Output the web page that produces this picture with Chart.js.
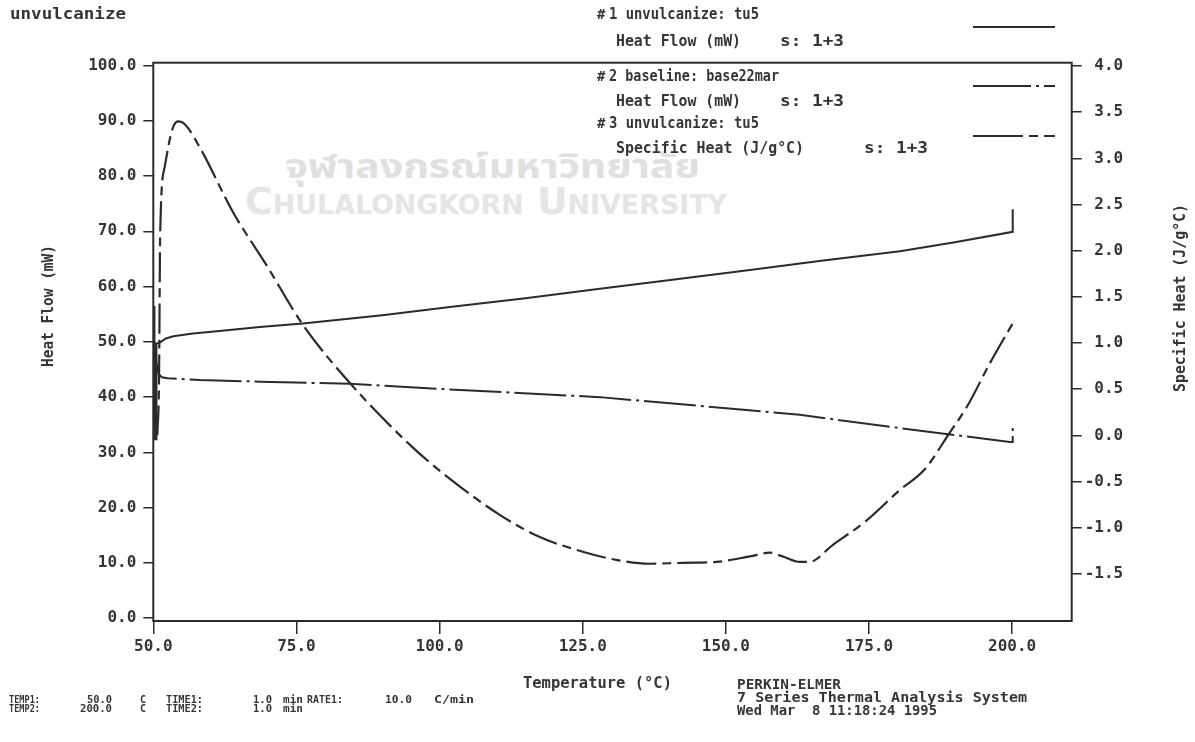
<!DOCTYPE html>
<html>
<head>
<meta charset="utf-8">
<script src="https://cdn.jsdelivr.net/npm/chart.js@4.4.0/dist/chart.umd.min.js"></script>
<style>
  html, body { margin: 0; padding: 0; background: #fff; }
  #wrap { position: relative; width: 1195px; height: 742px; overflow: hidden; background: #fff; }
  #wrap canvas, #wrap svg { position: absolute; left: 0; top: 0; }
  #notes text { font-family: "DejaVu Sans Mono", monospace; font-weight: bold; fill: #353535; white-space: pre; }
</style>
</head>
<body>
<div id="wrap">
  <svg id="mark" width="1195" height="742">
    <text x="285" y="178" textLength="415" lengthAdjust="spacingAndGlyphs"
          style="font-family:'Noto Sans Thai','Noto Sans','DejaVu Sans',sans-serif;font-weight:bold;font-size:34px;fill:#e0e0e0">จุฬาลงกรณ์มหาวิทยาลัย</text>
    <text x="245" y="214" textLength="482" lengthAdjust="spacingAndGlyphs"
          style="font-family:'DejaVu Sans Condensed','DejaVu Sans',sans-serif;font-weight:bold;font-variant:small-caps;font-size:38px;fill:#e5e5e5">Chulalongkorn University</text>
  </svg>
  <canvas id="dsc" width="1195" height="742"></canvas>
  <svg id="notes" width="1195" height="742">
    <text x="10" y="19" font-size="15" textLength="116" lengthAdjust="spacingAndGlyphs">unvulcanize</text>

    <text x="597" y="19" font-size="14">#</text>
    <text x="609" y="19" font-size="15" textLength="150" lengthAdjust="spacingAndGlyphs">1 unvulcanize: tu5</text>
    <text x="616" y="46" font-size="15" textLength="125" lengthAdjust="spacingAndGlyphs">Heat Flow (mW)</text>
    <text x="780" y="46" font-size="15" textLength="64" lengthAdjust="spacingAndGlyphs">s: 1+3</text>
    <text x="597" y="81" font-size="14">#</text>
    <text x="609" y="81" font-size="15" textLength="170" lengthAdjust="spacingAndGlyphs">2 baseline: base22mar</text>
    <text x="616" y="106" font-size="15" textLength="125" lengthAdjust="spacingAndGlyphs">Heat Flow (mW)</text>
    <text x="780" y="106" font-size="15" textLength="64" lengthAdjust="spacingAndGlyphs">s: 1+3</text>
    <text x="597" y="128" font-size="14">#</text>
    <text x="609" y="128" font-size="15" textLength="150" lengthAdjust="spacingAndGlyphs">3 unvulcanize: tu5</text>
    <text x="616" y="153" font-size="15" textLength="188" lengthAdjust="spacingAndGlyphs">Specific Heat (J/g°C)</text>
    <text x="864" y="153" font-size="15" textLength="64" lengthAdjust="spacingAndGlyphs">s: 1+3</text>

    <line x1="973" y1="27" x2="1055" y2="27" stroke="#2b2b2b" stroke-width="2"/>
    <line x1="973" y1="86" x2="1055" y2="86" stroke="#2b2b2b" stroke-width="2" stroke-dasharray="58 5 3 5"/>
    <line x1="973" y1="136" x2="1055" y2="136" stroke="#2b2b2b" stroke-width="2" stroke-dasharray="50 6 9 6"/>

    <text transform="translate(53,306) rotate(-90)" x="-61" y="0" font-size="15" textLength="122" lengthAdjust="spacingAndGlyphs">Heat Flow (mW)</text>
    <text transform="translate(1185,298) rotate(-90)" x="-94" y="0" font-size="15" textLength="188" lengthAdjust="spacingAndGlyphs">Specific Heat (J/g°C)</text>
    <text x="523" y="688" font-size="15" textLength="149" lengthAdjust="spacingAndGlyphs">Temperature (°C)</text>

    <g font-size="11">
      <text x="9" y="703" textLength="31" lengthAdjust="spacingAndGlyphs">TEMP1:</text>
      <text x="87" y="703" textLength="25" lengthAdjust="spacingAndGlyphs">50.0</text>
      <text x="140" y="703" textLength="6" lengthAdjust="spacingAndGlyphs">C</text>
      <text x="166" y="703" textLength="37" lengthAdjust="spacingAndGlyphs">TIME1:</text>
      <text x="253" y="703" textLength="19" lengthAdjust="spacingAndGlyphs">1.0</text>
      <text x="283" y="703" textLength="20" lengthAdjust="spacingAndGlyphs">min</text>
      <text x="307" y="703" textLength="36" lengthAdjust="spacingAndGlyphs">RATE1:</text>
      <text x="385" y="703" textLength="27" lengthAdjust="spacingAndGlyphs">10.0</text>
      <text x="434" y="703" textLength="40" lengthAdjust="spacingAndGlyphs">C/min</text>
      <text x="9" y="712" textLength="31" lengthAdjust="spacingAndGlyphs">TEMP2:</text>
      <text x="80" y="712" textLength="32" lengthAdjust="spacingAndGlyphs">200.0</text>
      <text x="140" y="712" textLength="6" lengthAdjust="spacingAndGlyphs">C</text>
      <text x="166" y="712" textLength="37" lengthAdjust="spacingAndGlyphs">TIME2:</text>
      <text x="253" y="712" textLength="19" lengthAdjust="spacingAndGlyphs">1.0</text>
      <text x="283" y="712" textLength="20" lengthAdjust="spacingAndGlyphs">min</text>
    </g>

    <g font-size="14">
      <text x="737" y="689" textLength="104" lengthAdjust="spacingAndGlyphs">PERKIN-ELMER</text>
      <text x="737" y="702" textLength="290" lengthAdjust="spacingAndGlyphs">7 Series Thermal Analysis System</text>
      <text x="737" y="715" textLength="200" lengthAdjust="spacingAndGlyphs">Wed Mar  8 11:18:24 1995</text>
    </g>
  </svg>
</div>
<script>
// curve #1 - sample heat flow (mW)
const sampleTemp = [50.2, 50.2, 50.55, 50.55, 51.2, 52.2, 53.5, 56.9, 62.0, 68.6, 76.1, 90.0, 101.8, 115.0, 128.0, 141.0, 154.2, 167.0, 180.4, 190.0, 200.1, 200.1];
const sampleHeatFlow = [56.5, 32.4, 32.4, 49.7, 49.9, 50.6, 51.0, 51.5, 52.0, 52.7, 53.3, 54.8, 56.3, 57.9, 59.6, 61.3, 63.0, 64.7, 66.4, 68.0, 69.9, 74.0];

// curve #2 - baseline heat flow (mW)
const baseTemp = [50.2, 50.5, 50.9, 51.5, 52.5, 58.2, 68.6, 84.3, 101.8, 128.0, 145.5, 162.9, 180.4, 199.6, 200.1, 200.1];
const baseHeatFlow = [50.0, 46.5, 44.2, 43.6, 43.4, 43.1, 42.8, 42.4, 41.4, 40.0, 38.4, 36.8, 34.4, 31.9, 31.9, 35.0];

// curve #3 - specific heat (J/g C)
const cpTemp = [50.7, 51.0, 51.2, 52.0, 53.3, 54.3, 55.5, 58.2, 63.9, 69.9, 76.1, 84.3, 95.3, 101.8, 110.5, 117.5, 125.0, 131.0, 136.7, 142.5, 148.4, 154.2, 157.7, 159.9, 162.9, 164.6, 168.6, 174.6, 180.4, 184.7, 189.1, 192.1, 196.1, 200.45];
const cpValues = [0.0, 0.60, 2.19, 2.91, 3.31, 3.40, 3.37, 3.11, 2.42, 1.83, 1.20, 0.57, -0.13, -0.47, -0.86, -1.10, -1.26, -1.35, -1.39, -1.38, -1.37, -1.31, -1.27, -1.31, -1.37, -1.37, -1.19, -0.92, -0.59, -0.37, 0.03, 0.31, 0.78, 1.25];

const tempTicks = [50, 75, 100, 125, 150, 175, 200];
const heatFlowTicks = [0, 10, 20, 30, 40, 50, 60, 70, 80, 90, 100];
const cpTicks = [-1.5, -1.0, -0.5, 0.0, 0.5, 1.0, 1.5, 2.0, 2.5, 3.0, 3.5, 4.0];

const ink = "#2b2b2b";
const mono = "'DejaVu Sans Mono', monospace";

function toPoints(xs, ys) {
    return xs.map((x, i) => ({ x: x, y: ys[i] }));
}

function fixTicks(values) {
    return function (scale) {
        scale.ticks = values.map((v) => ({ value: v }));
    };
}

const frame = {
    id: "frame",
    afterDatasetsDraw(chart) {
        const { ctx, chartArea } = chart;
        ctx.save();
        ctx.strokeStyle = ink;
        ctx.lineWidth = 2;
        ctx.strokeRect(chartArea.left, chartArea.top, chartArea.right - chartArea.left, chartArea.bottom - chartArea.top);
        ctx.restore();
    },
};

const tickFont = { family: mono, size: 16, weight: "bold" };
const tickColor = "#353535";
const tickGrid = { drawOnChartArea: false, drawTicks: true, tickLength: 10, color: ink, lineWidth: 1.5 };

new Chart(document.getElementById("dsc").getContext("2d"), {
    type: "line",
    data: {
        datasets: [
            {
                label: "1 unvulcanize: tu5",
                data: toPoints(sampleTemp, sampleHeatFlow),
                yAxisID: "y",
                borderColor: ink,
                borderWidth: 2,
                pointRadius: 0,
                tension: 0,
            },
            {
                label: "2 baseline: base22mar",
                data: toPoints(baseTemp, baseHeatFlow),
                yAxisID: "y",
                borderColor: ink,
                borderWidth: 2,
                borderDash: [52, 5, 3, 5],
                pointRadius: 0,
                tension: 0,
            },
            {
                label: "3 unvulcanize: tu5",
                data: toPoints(cpTemp, cpValues),
                yAxisID: "y1",
                borderColor: ink,
                borderWidth: 2.2,
                borderDash: [30, 6, 9, 6],
                pointRadius: 0,
                cubicInterpolationMode: "monotone",
            },
        ],
    },
    options: {
        responsive: false,
        animation: false,
        devicePixelRatio: 1,
        layout: { padding: { top: 62.7, left: 0, right: 0, bottom: 0 } },
        plugins: {
            legend: { display: false },
            tooltip: { enabled: false },
        },
        scales: {
            x: {
                type: "linear",
                position: "bottom",
                min: 50,
                max: 210.4,
                afterFit: (s) => { s.height = 121; },
                afterBuildTicks: fixTicks(tempTicks),
                ticks: {
                    font: tickFont,
                    color: tickColor,
                    padding: 3,
                    maxRotation: 0,
                    autoSkip: false,
                    callback: (v) => v.toFixed(1),
                },
                grid: Object.assign({}, tickGrid, { tickLength: 13 }),
                border: { display: false },
            },
            y: {
                position: "left",
                min: -0.5,
                max: 100.5,
                afterFit: (s) => { s.width = 153.3; },
                afterBuildTicks: fixTicks(heatFlowTicks),
                ticks: {
                    font: tickFont,
                    color: tickColor,
                    padding: 7,
                    callback: (v) => v.toFixed(1),
                },
                grid: tickGrid,
                border: { display: false },
            },
            y1: {
                position: "right",
                min: -2.01,
                max: 4.036,
                afterFit: (s) => { s.width = 123.3; },
                afterBuildTicks: fixTicks(cpTicks),
                ticks: {
                    font: tickFont,
                    color: tickColor,
                    padding: 3,
                    crossAlign: "near",
                    // pad with a space so the mono labels line up on the right
                    callback: (v) => (v < 0 ? "" : " ") + v.toFixed(1),
                },
                grid: tickGrid,
                border: { display: false },
            },
        },
    },
    plugins: [frame],
});
</script>
</body>
</html>
